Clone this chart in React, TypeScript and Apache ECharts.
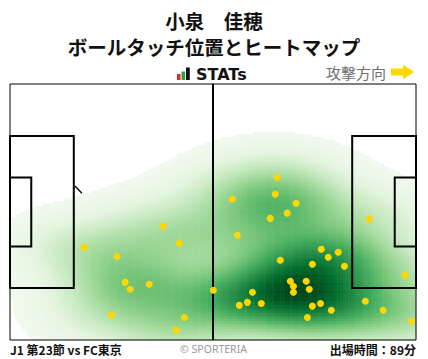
import React, { useEffect, useRef } from "react";
import * as echarts from "echarts";

// Pitch size (metres)
const PITCH_LENGTH = 105;
const PITCH_WIDTH = 68;

// Ball touch positions (metres: x from own goal line, y from top touchline)
const touchX = [
  39.6, 43.8, 19.2, 27.7, 29.8, 31.1, 36.0, 26.2, 45.1, 43.0, 52.6,
  69.1, 57.5, 68.6, 74.0, 67.3, 71.7, 58.8, 92.9, 80.5, 84.9, 82.3,
  78.2, 69.9, 86.5, 102.2, 72.5, 76.6, 73.3, 77.4, 73.3, 62.7, 61.4,
  59.3, 65.0, 80.3, 78.2, 83.1, 91.9, 96.5, 76.9, 103.8,
];
const touchY = [
  37.8, 42.3, 43.4, 45.8, 52.7, 54.5, 53.2, 61.4, 62.0, 65.4, 54.8,
  24.8, 30.6, 29.3, 31.7, 35.7, 34.3, 40.2, 35.9, 43.9, 44.7, 46.0,
  47.9, 46.8, 48.4, 50.8, 52.4, 52.4, 53.7, 54.5, 55.3, 55.3, 58.0,
  58.8, 58.3, 58.3, 59.0, 60.1, 57.7, 60.1, 62.0, 63.0,
];

// Pitch markings (metres): [x1, y1, x2, y2, lineWidth, kind(0 = rect, 1 = line)]
const pitchMarks = [
  [0, 0, 105, 68, 1, 0],
  [0, 13.84, 16.5, 54.16, 2, 0],
  [88.5, 13.84, 105, 54.16, 2, 0],
  [0, 24.84, 5.5, 43.16, 2, 0],
  [99.5, 24.84, 105, 43.16, 2, 0],
  [52.5, 0, 52.5, 68, 2, 1],
  [16.8, 27.1, 18.6, 29.0, 1.3, 1],
];

// Texts
const titleText = "小泉　佳穂";
const subtitleText = "ボールタッチ位置とヒートマップ";
const brandText = "STATs";
const directionText = "攻撃方向";
const matchText = "J1 第23節 vs FC東京";
const creditText = "© SPORTERIA";
const minutesText = "出場時間：89分";

// Heatmap colour ramp (Greens)
const greens = [
  "#f1f9ee", "#e5f5e0", "#c7e9c0", "#a1d99b", "#74c476",
  "#41ab5d", "#238b45", "#006d2c", "#00441b",
];

const NX = 150;
const NY = 96;
const LEVEL_FRAC = 0.008;
const GAMMA = 0.65;
const BW_ADJUST = 0.93;

function buildDensity() {
  const n = touchX.length;
  const mx = touchX.reduce((a, b) => a + b, 0) / n;
  const my = touchY.reduce((a, b) => a + b, 0) / n;
  let sxx = 0, syy = 0, sxy = 0;
  for (let i = 0; i < n; i++) {
    const dx = touchX[i] - mx, dy = touchY[i] - my;
    sxx += dx * dx; syy += dy * dy; sxy += dx * dy;
  }
  sxx /= n - 1; syy /= n - 1; sxy /= n - 1;
  const f2 = Math.pow(n, -1 / 3) * BW_ADJUST * BW_ADJUST;
  const cxx = sxx * f2, cyy = syy * f2, cxy = sxy * f2;
  const det = cxx * cyy - cxy * cxy;
  const ixx = cyy / det, iyy = cxx / det, ixy = -cxy / det;
  const cells: number[][] = [];
  let max = 0;
  for (let i = 0; i < NX; i++) {
    const cx = ((i + 0.5) / NX) * PITCH_LENGTH;
    for (let j = 0; j < NY; j++) {
      const cy = ((j + 0.5) / NY) * PITCH_WIDTH;
      let s = 0;
      for (let k = 0; k < n; k++) {
        const dx = cx - touchX[k], dy = cy - touchY[k];
        s += Math.exp(-0.5 * (ixx * dx * dx + 2 * ixy * dx * dy + iyy * dy * dy));
      }
      cells.push([i, j, s]);
      if (s > max) max = s;
    }
  }
  const data = cells
    .filter((c) => c[2] / max >= LEVEL_FRAC)
    .map((c) => [c[0], c[1], Math.pow(c[2] / max, GAMMA)]);
  return { data, min: Math.pow(LEVEL_FRAC, GAMMA), max: 1 };
}

export default function App() {
  const ref = useRef<HTMLDivElement>(null);
  useEffect(() => {
    document.body.style.margin = "0";
    const chart = echarts.init(ref.current!, null, { renderer: "svg" });
    const dens = buildDensity();
    const xCats = Array.from({ length: NX }, (_, i) => String(i));
    const yCats = Array.from({ length: NY }, (_, i) => String(i));
    const cjk = '"Noto Sans CJK JP", "Noto Sans", sans-serif';
    const grid = { left: 10, top: 84, width: 406, height: 256 };
    chart.setOption({
      animation: false,
      backgroundColor: "#ffffff",
      grid,
      xAxis: [
        { type: "category", data: xCats, show: false, gridIndex: 0 },
        { type: "value", min: 0, max: PITCH_LENGTH, show: false, gridIndex: 0 },
      ],
      yAxis: [
        { type: "category", data: yCats, inverse: true, show: false, gridIndex: 0 },
        { type: "value", min: 0, max: PITCH_WIDTH, inverse: true, show: false, gridIndex: 0 },
      ],
      visualMap: {
        show: false,
        type: "continuous",
        seriesIndex: 0,
        dimension: 2,
        min: dens.min,
        max: dens.max,
        inRange: { color: greens },
      },
      series: [
        {
          type: "heatmap",
          xAxisIndex: 0,
          yAxisIndex: 0,
          data: dens.data,
          silent: true,
          z: 1,
        },
        {
          type: "custom",
          xAxisIndex: 1,
          yAxisIndex: 1,
          silent: true,
          z: 3,
          data: pitchMarks,
          renderItem: (params: any, api: any) => {
            const p1 = api.coord([api.value(0), api.value(1)]);
            const p2 = api.coord([api.value(2), api.value(3)]);
            const w = api.value(4);
            const kind = api.value(5);
            if (kind === 0) {
              return {
                type: "rect",
                shape: {
                  x: Math.min(p1[0], p2[0]),
                  y: Math.min(p1[1], p2[1]),
                  width: Math.abs(p2[0] - p1[0]),
                  height: Math.abs(p2[1] - p1[1]),
                },
                style: { fill: "none", stroke: "#000", lineWidth: w },
              };
            }
            return {
              type: "line",
              shape: { x1: p1[0], y1: p1[1], x2: p2[0], y2: p2[1] },
              style: { stroke: "#000", lineWidth: w },
            };
          },
        },
        {
          type: "scatter",
          xAxisIndex: 1,
          yAxisIndex: 1,
          data: touchX.map((x, i) => [x, touchY[i]]),
          symbolSize: 7,
          itemStyle: { color: "#ffd700", opacity: 1 },
          silent: true,
          z: 4,
        },
      ],
      graphic: [
        {
          type: "text", x: 214, y: 20,
          style: { text: titleText, font: `bold 19.5px ${cjk}`, lineHeight: 21, fill: "#111", align: "center", verticalAlign: "middle" },
        },
        {
          type: "text", x: 214, y: 46,
          style: { text: subtitleText, font: `bold 19.5px ${cjk}`, lineHeight: 21, fill: "#111", align: "center", verticalAlign: "middle" },
        },
        { type: "rect", shape: { x: 177, y: 74, width: 3.5, height: 6 }, style: { fill: "#e8262a" } },
        { type: "rect", shape: { x: 181.5, y: 71.5, width: 3.5, height: 8.5 }, style: { fill: "#2aa344" } },
        { type: "rect", shape: { x: 186, y: 67.5, width: 3.8, height: 12.5 }, style: { fill: "#111" } },
        {
          type: "text", x: 196, y: 74,
          style: { text: brandText, font: 'bold 16px "DejaVu Sans", sans-serif', fill: "#111", align: "left", verticalAlign: "middle" },
        },
        {
          type: "text", x: 326, y: 72.5,
          style: { text: directionText, font: `15px ${cjk}`, fill: "#6f6f6f", align: "left", verticalAlign: "middle" },
        },
        {
          type: "polygon",
          shape: { points: [[391, 68.5], [403, 68.5], [403, 64.5], [414, 72], [403, 79.5], [403, 75.5], [391, 75.5]] },
          style: { fill: "#ffd900" },
        },
        {
          type: "text", x: 10, y: 349.5,
          style: { text: matchText, font: `bold 12px ${cjk}`, fill: "#111", align: "left", verticalAlign: "middle" },
        },
        {
          type: "text", x: 213.5, y: 348.5,
          style: { text: creditText, font: '10.5px "Noto Sans", sans-serif', fill: "#9a9a9a", align: "center", verticalAlign: "middle" },
        },
        {
          type: "text", x: 416, y: 349.5,
          style: { text: minutesText, font: `bold 12px ${cjk}`, fill: "#111", align: "right", verticalAlign: "middle" },
        },
      ],
    });
    return () => chart.dispose();
  }, []);
  return <div ref={ref} style={{ position: "fixed", left: 0, top: 0, width: 428, height: 359 }} />;
}
